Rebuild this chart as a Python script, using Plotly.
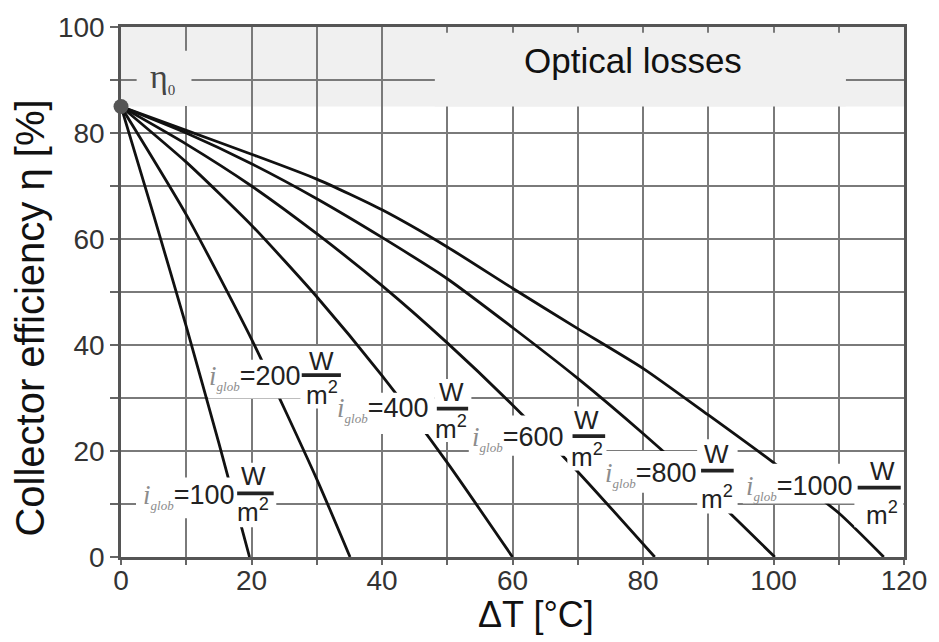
import plotly.graph_objects as go

# ---------------- data ----------------
irradiance = [100, 200, 400, 600, 800, 1000]          # W/m²
dT_100 = [0, 5, 10, 15, 19.7]
eta_100 = [85, 64.5, 43.5, 21.5, 0]
dT_200 = [0, 10, 20, 30, 35.1]
eta_200 = [85, 64.6, 41.1, 14.7, 0]
dT_400 = [0, 10, 20, 30, 40, 50, 60]
eta_400 = [85, 74.5, 62.6, 49.1, 34.2, 17.8, 0]
dT_600 = [0, 10, 20, 30, 40, 50, 60, 70, 81.8]
eta_600 = [85, 77.9, 70.0, 61.0, 51.2, 40.4, 28.7, 16.1, 0]
dT_800 = [0, 10, 20, 30, 40, 50, 60, 70, 80, 90, 100.2]
eta_800 = [85, 80.0, 74.2, 67.6, 60.3, 52.5, 43.3, 33.7, 23.3, 12.2, 0]
dT_1000 = [0, 10, 20, 30, 40, 50, 60, 70, 80, 90, 100, 110, 116.9]
eta_1000 = [85, 80.5, 76.0, 71.3, 65.5, 58.5, 50.7, 43.1, 35.6, 26.8, 17.8, 8.3, 0]
eta0 = 85            # optical efficiency [%]
band_top = 100

x_tickvals = list(range(0, 121, 10))
x_ticktext = [str(v) if v % 20 == 0 else "" for v in x_tickvals]
y_tickvals = list(range(0, 101, 10))
y_ticktext = [str(v) if v % 20 == 0 else "" for v in y_tickvals]

curves_x = [dT_100, dT_200, dT_400, dT_600, dT_800, dT_1000]
curves_y = [eta_100, eta_200, eta_400, eta_600, eta_800, eta_1000]

# ---------------- label layout (positions in axis units) ----------------
LABELS = [
    dict(tr=17.6, ty=11.4, fx=20.3, wy=15.3, bx=(17.8, 23.4), by=12.0, my=8.8,
         r1=(2.3, 18.1, 7.3, 15.0), r2=(17.5, 23.8, 5.6, 17.8)),
    dict(tr=27.7, ty=33.9, fx=30.8, wy=37.0, bx=(27.7, 33.7), by=34.3, my=30.9,
         r1=(13.35, 27.9, 29.9, 37.2), r2=(27.5, 34.1, 28.0, 39.8)),
    dict(tr=47.4, ty=27.8, fx=50.6, wy=31.1, bx=(48.4, 53.2), by=28.0, my=24.5,
         r1=(32.6, 48.0, 23.2, 31.0), r2=(48.0, 53.7, 21.7, 33.6)),
    dict(tr=68.1, ty=22.4, fx=71.4, wy=25.8, bx=(69.2, 74.2), by=22.8, my=19.1,
         r1=(53.3, 68.6, 19.1, 26.7), r2=(68.4, 74.4, 16.3, 28.4)),
    dict(tr=88.4, ty=15.6, fx=91.3, wy=19.4, bx=(88.9, 93.9), by=16.3, my=11.3,
         r1=(73.3, 88.8, 12.1, 20.0), r2=(88.3, 94.5, 8.2, 22.2)),
    dict(tr=112.4, ty=13.1, fx=116.7, wy=16.3, bx=(112.9, 119.5), by=13.1, my=8.2,
         r1=(95.3, 112.8, 10.1, 17.6), r2=(112.4, 119.9, 5.6, 19.1)),
]

BAND = "#f0f0f0"
GRID = "#7a7a7a"
FONT = "Liberation Sans, Arial, sans-serif"

fig = go.Figure()
for xs, ys, g in zip(curves_x, curves_y, irradiance):
    fig.add_trace(go.Scatter(x=xs, y=ys, mode="lines", name=f"{g}",
                             line=dict(color="#111111", width=2.8, shape="spline", smoothing=0.6),
                             hoverinfo="skip", showlegend=False))
fig.add_trace(go.Scatter(x=[0], y=[eta0], mode="markers",
                         marker=dict(size=15, color="#555555"), cliponaxis=False,
                         showlegend=False, hoverinfo="skip"))

shapes = []
shapes.append(dict(type="rect", xref="x", yref="y", x0=0, x1=120, y0=eta0, y1=band_top,
                   fillcolor=BAND, line=dict(width=0), layer="below"))
shapes.append(dict(type="rect", xref="x", yref="y", x0=2.4, x1=10.8, y0=85.1, y1=95.5,
                   fillcolor=BAND, line=dict(width=0), layer="above"))
shapes.append(dict(type="rect", xref="x", yref="y", x0=48.1, x1=111.1, y0=85.0, y1=98.9,
                   fillcolor=BAND, line=dict(width=0), layer="above"))

annotations = []
for lab in LABELS:
    for r in (lab["r1"], lab["r2"]):
        shapes.append(dict(type="rect", xref="x", yref="y", x0=r[0], x1=r[1], y0=r[2], y1=r[3],
                           fillcolor="white", line=dict(width=0), layer="above"))
for lab, g in zip(LABELS, irradiance):
    shapes.append(dict(type="line", xref="x", yref="y", x0=lab["bx"][0], x1=lab["bx"][1],
                       y0=lab["by"], y1=lab["by"], line=dict(color="#222222", width=3.8),
                       layer="above"))
    annotations.append(dict(
        x=lab["tr"], y=lab["ty"], xref="x", yref="y", xanchor="right", yanchor="middle",
        showarrow=False,
        text=("<span style='font-family:Liberation Serif;color:#8c8c8c'><i>i</i>"
              "<sub><span style='font-size:13px'><i>glob</i></span></sub></span>"
              f"={g}"),
        font=dict(family=FONT, size=27, color="#222222")))
    annotations.append(dict(x=lab["fx"], y=lab["wy"], xref="x", yref="y", showarrow=False,
                            text="W", font=dict(family=FONT, size=26, color="#222222")))
    annotations.append(dict(x=lab["fx"], y=lab["my"], xref="x", yref="y", showarrow=False,
                            text="m<sup>2</sup>", font=dict(family=FONT, size=26, color="#222222")))

annotations.append(dict(x=6.3, y=90.3, xref="x", yref="y", showarrow=False,
                        text="η<sub><span style='font-size:15px'>0</span></sub>",
                        font=dict(family="Liberation Serif, serif", size=34, color="#444444")))
annotations.append(dict(x=78.4, y=93.6, xref="x", yref="y", showarrow=False,
                        text="Optical losses",
                        font=dict(family=FONT, size=35, color="#111111")))
annotations.append(dict(x=63.6, y=-0.108, xref="x", yref="paper", showarrow=False,
                        text="ΔT [°C]", yanchor="middle",
                        font=dict(family=FONT, size=36, color="#111111")))
annotations.append(dict(x=-0.148, y=0.45, xref="paper", yref="paper", showarrow=False,
                        text="Collector efficiency η [%]", textangle=-90,
                        font=dict(family=FONT, size=40, color="#111111")))

axis_common = dict(showgrid=True, gridcolor=GRID, gridwidth=2, zeroline=False,
                   showline=True, linecolor="#555555", linewidth=2.5, mirror=True,
                   ticks="outside", tickcolor="#666666", tickwidth=2,
                   tickfont=dict(family=FONT, size=28, color="#333333"))

fig.update_layout(
    width=939, height=642,
    margin=dict(l=121, r=27, t=22, b=85),
    paper_bgcolor="white", plot_bgcolor="white",
    shapes=shapes, annotations=annotations,
    xaxis=dict(range=[0, 120], tickmode="array", tickvals=x_tickvals, ticktext=x_ticktext,
               ticklen=5, ticklabelstandoff=-8, **axis_common),
    yaxis=dict(range=[0, 100], tickmode="array", tickvals=y_tickvals, ticktext=y_ticktext,
               ticklen=8, **axis_common),
)

fig.write_html("out.html")
